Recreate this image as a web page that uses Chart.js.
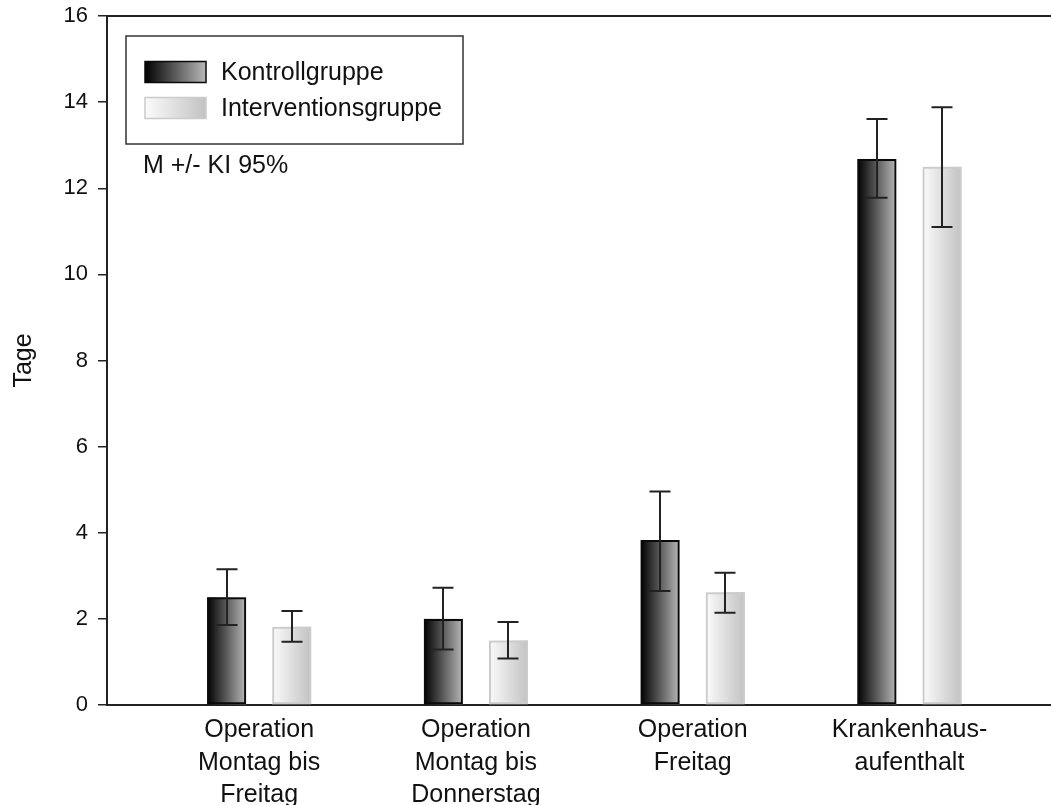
<!DOCTYPE html>
<html>
<head>
<meta charset="utf-8">
<title>Tage je Gruppe</title>
<script src="https://cdn.jsdelivr.net/npm/chart.js@4.4.1/dist/chart.umd.min.js"></script>
<style>
  html, body { margin: 0; padding: 0; background: #ffffff; }
  #wrap { width: 1051px; height: 805px; position: relative; overflow: hidden; }
</style>
</head>
<body>
<div id="wrap"><canvas id="chart"></canvas></div>
<script>
// Categories (multi-line axis labels)
const categories = [
  ["Operation", "Montag bis", "Freitag"],
  ["Operation", "Montag bis", "Donnerstag"],
  ["Operation", "Freitag"],
  ["Krankenhaus-", "aufenthalt"]
];
const seriesNames = ["Kontrollgruppe", "Interventionsgruppe"];

// Means with 95% confidence limits (days)
const kontrollMean      = [2.50, 2.00, 3.83, 12.68];
const kontrollLower     = [1.86, 1.29, 2.65, 11.78];
const kontrollUpper     = [3.15, 2.72, 4.96, 13.61];
const interventionMean  = [1.82, 1.50, 2.62, 12.50];
const interventionLower = [1.47, 1.08, 2.14, 11.10];
const interventionUpper = [2.18, 1.93, 3.07, 13.88];

const yTicks = [0, 2, 4, 6, 8, 10, 12, 14, 16];
const axisTitle = "Tage";
const noteText = "M +/- KI 95%";

const FONT = "'Liberation Sans', Arial, Helvetica, sans-serif";
const INK = "#111111";

// Fill each bar with a horizontal grey gradient before the outline is drawn
const barGradientPlugin = {
  id: "barGradient",
  beforeDatasetDraw(chart, args) {
    const ds = chart.data.datasets[args.index];
    const stops = ds.gradientStops;
    if (!stops) return;
    const ctx = chart.ctx;
    ctx.save();
    args.meta.data.forEach(bar => {
      const p = bar.getProps(["x", "y", "base", "width"], true);
      const left = p.x - p.width / 2;
      const g = ctx.createLinearGradient(left, 0, left + p.width, 0);
      g.addColorStop(0, stops[0]);
      g.addColorStop(1, stops[1]);
      ctx.fillStyle = g;
      ctx.fillRect(left, Math.min(p.y, p.base), p.width, Math.abs(p.base - p.y));
    });
    ctx.restore();
  }
};

// Confidence interval whiskers and the top frame line
const errorBarPlugin = {
  id: "errorBars",
  afterDatasetsDraw(chart, args, opts) {
    const ctx = chart.ctx;
    const y = chart.scales.y;
    const area = chart.chartArea;
    ctx.save();
    ctx.strokeStyle = opts.color;
    ctx.lineWidth = opts.lineWidth;
    chart.data.datasets.forEach((ds, di) => {
      const meta = chart.getDatasetMeta(di);
      meta.data.forEach((bar, i) => {
        const x = Math.round(bar.x);
        const yl = y.getPixelForValue(ds.ciLower[i]);
        const yu = y.getPixelForValue(ds.ciUpper[i]);
        const hw = opts.capWidth / 2;
        ctx.beginPath();
        ctx.moveTo(x, yl); ctx.lineTo(x, yu);
        ctx.moveTo(x - hw, yu); ctx.lineTo(x + hw, yu);
        ctx.moveTo(x - hw, yl); ctx.lineTo(x + hw, yl);
        ctx.stroke();
      });
    });
    // frame line along the top of the plot
    ctx.strokeStyle = opts.frameColor;
    ctx.lineWidth = 2;
    ctx.beginPath();
    ctx.moveTo(area.left, area.top);
    ctx.lineTo(area.right, area.top);
    ctx.stroke();
    ctx.restore();
  }
};

// Boxed legend with gradient swatches, plus the note underneath
const boxLegendPlugin = {
  id: "boxLegend",
  afterDraw(chart, args, opts) {
    const ctx = chart.ctx;
    ctx.save();
    ctx.strokeStyle = opts.borderColor;
    ctx.lineWidth = 1.5;
    ctx.strokeRect(opts.x, opts.y, opts.width, opts.height);
    ctx.font = opts.fontSize + "px " + FONT;
    ctx.textBaseline = "middle";
    ctx.textAlign = "left";
    chart.data.datasets.forEach((ds, i) => {
      const sy = opts.y + opts.firstRow + i * opts.rowGap;
      const sx = opts.x + opts.swatchOffset;
      const g = ctx.createLinearGradient(sx, 0, sx + opts.swatchW, 0);
      g.addColorStop(0, ds.gradientStops[0]);
      g.addColorStop(1, ds.gradientStops[1]);
      ctx.fillStyle = g;
      ctx.fillRect(sx, sy - opts.swatchH / 2, opts.swatchW, opts.swatchH);
      ctx.strokeStyle = ds.borderColor;
      ctx.lineWidth = 1.5;
      ctx.strokeRect(sx, sy - opts.swatchH / 2, opts.swatchW, opts.swatchH);
      ctx.fillStyle = INK;
      ctx.fillText(ds.label, opts.x + opts.textOffset, sy + 1);
    });
    ctx.fillStyle = INK;
    ctx.fillText(noteText, opts.x + opts.noteX, opts.y + opts.height + opts.noteDy);
    ctx.restore();
  }
};

const datasets = [
  {
    label: seriesNames[0],
    data: categories.map((c, i) => ({ x: i, y: kontrollMean[i] })),
    ciLower: kontrollLower,
    ciUpper: kontrollUpper,
    gradientStops: ["#000000", "#b8b8b8"],
    backgroundColor: "rgba(0,0,0,0)",
    borderColor: "#0a0a0a",
    borderWidth: 2
  },
  {
    label: seriesNames[1],
    data: categories.map((c, i) => ({ x: i, y: interventionMean[i] })),
    ciLower: interventionLower,
    ciUpper: interventionUpper,
    gradientStops: ["#fbfbfb", "#c2c2c2"],
    backgroundColor: "rgba(0,0,0,0)",
    borderColor: "#cbcbcb",
    borderWidth: 2
  }
];

new Chart(document.getElementById("chart"), {
  type: "bar",
  data: { datasets },
  plugins: [barGradientPlugin, errorBarPlugin, boxLegendPlugin],
  options: {
    responsive: true,
    maintainAspectRatio: false,
    animation: false,
    events: [],
    layout: { padding: { top: 16, left: 0, right: 0, bottom: 0 } },
    datasets: {
      bar: { categoryPercentage: 0.6, barPercentage: 0.6, borderSkipped: false }
    },
    scales: {
      x: {
        type: "linear",
        offset: false,
        min: -0.702,
        max: 3.653,
        afterBuildTicks(scale) {
          scale.ticks = categories.map((c, i) => ({ value: i }));
        },
        afterFit(scale) {
          scale.height = 100;
          scale.paddingLeft = 0;
          scale.paddingRight = 0;
        },
        grid: { display: false, drawTicks: false, offset: false },
        border: { display: true, color: "#222222", width: 2 },
        ticks: {
          autoSkip: false,
          maxRotation: 0,
          minRotation: 0,
          padding: 9,
          color: INK,
          font: { family: FONT, size: 25, lineHeight: 1.3 },
          callback: (v) => categories[v] || ""
        }
      },
      y: {
        min: 0,
        max: 16,
        afterBuildTicks(scale) {
          scale.ticks = yTicks.map(v => ({ value: v }));
        },
        afterFit(scale) {
          scale.width = 107;
          scale.paddingTop = 0;
          scale.paddingBottom = 0;
        },
        grid: {
          display: true,
          drawOnChartArea: false,
          drawTicks: true,
          tickLength: 9,
          color: "#222222",
          lineWidth: 1.5
        },
        border: { display: true, color: "#222222", width: 2 },
        ticks: {
          padding: 10,
          color: INK,
          font: { family: FONT, size: 22 }
        },
        title: {
          display: true,
          text: axisTitle,
          color: INK,
          font: { family: FONT, size: 25 },
          padding: { top: 9, bottom: 0 }
        }
      }
    },
    plugins: {
      legend: { display: false },
      tooltip: { enabled: false },
      errorBars: { color: "#222222", lineWidth: 2, capWidth: 21, frameColor: "#222222" },
      boxLegend: {
        x: 126, y: 36, width: 337, height: 108,
        borderColor: "#333333",
        fontSize: 25,
        swatchOffset: 19, swatchW: 61, swatchH: 21,
        firstRow: 36, rowGap: 36,
        textOffset: 95,
        noteX: 17, noteDy: 22
      }
    }
  }
});
</script>
</body>
</html>
